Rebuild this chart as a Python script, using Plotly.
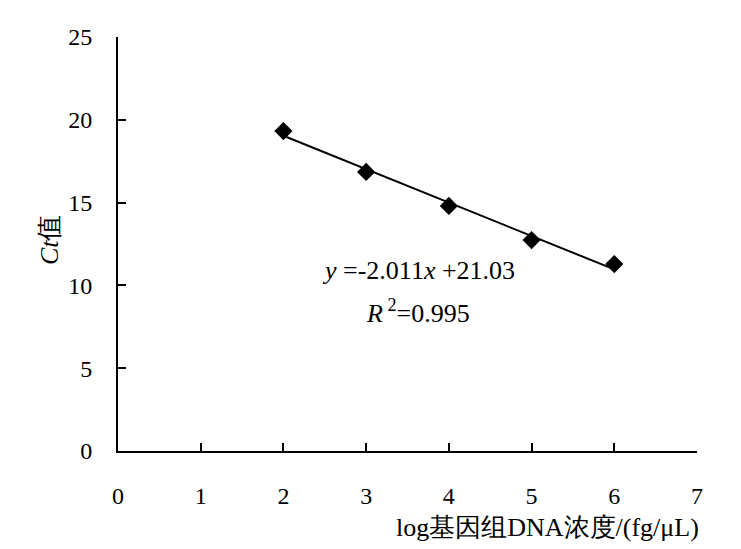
import numpy as np
import plotly.graph_objects as go

log_conc = [2, 3, 4, 5, 6]
ct_values = [19.32, 16.85, 14.80, 12.74, 11.29]
x_ticks = [0, 1, 2, 3, 4, 5, 6, 7]
y_ticks = [0, 5, 10, 15, 20, 25]
equation_text = "<i>y</i> =-2.011<i>x</i> +21.03"
r2_text = "<i>R</i><sup> 2</sup>=0.995"
x_title = "log基因组DNA浓度/(fg/μL)"
y_title = "<i>Ct</i>值"

slope, intercept = np.polyfit(log_conc, ct_values, 1)
fit_x = [min(log_conc), max(log_conc)]
fit_y = [slope * v + intercept for v in fit_x]

FONT = "Times New Roman"
FS = 24
FS_T = 26

fig = go.Figure()
fig.add_trace(go.Scatter(x=fit_x, y=fit_y, mode="lines",
                         line=dict(color="black", width=2), showlegend=False, hoverinfo="skip"))
fig.add_trace(go.Scatter(x=log_conc, y=ct_values, mode="markers",
                         marker=dict(symbol="diamond", size=14, color="black"), showlegend=False))

fig.add_annotation(x=3.63, y=10.87, xref="x", yref="y", xanchor="center", yanchor="middle",
                   text=equation_text, showarrow=False,
                   font=dict(family=FONT, size=FS_T, color="black"))
fig.add_annotation(x=3.63, y=8.45, xref="x", yref="y", xanchor="center", yanchor="middle",
                   text=r2_text, showarrow=False,
                   font=dict(family=FONT, size=FS_T, color="black"))
fig.add_annotation(x=1.007, y=-0.184, xref="paper", yref="paper", xanchor="right", yanchor="middle",
                   text=x_title, showarrow=False, font=dict(family=FONT, size=FS_T, color="black"))
fig.add_annotation(x=-0.117, y=0.51, xref="paper", yref="paper", xanchor="center", yanchor="middle",
                   textangle=-90, text=y_title, showarrow=False,
                   font=dict(family=FONT, size=FS_T, color="black"))

fig.update_layout(
    width=741, height=549,
    margin=dict(l=110, r=52, t=29, b=106),
    plot_bgcolor="white", paper_bgcolor="white",
    font=dict(family=FONT, size=FS, color="black"),
    xaxis=dict(range=[0, 7], tickvals=x_ticks, ticks="inside", ticklen=8, tickwidth=2,
               tickcolor="black", showline=True, linecolor="black", linewidth=2,
               showgrid=False, zeroline=False, ticklabelstandoff=22,
               tickfont=dict(family=FONT, size=FS, color="black")),
    yaxis=dict(range=[0, 25], tickvals=y_ticks, ticks="inside", ticklen=8, tickwidth=2,
               tickcolor="black", showline=True, linecolor="black", linewidth=2,
               showgrid=False, zeroline=False, ticklabelstandoff=19,
               tickfont=dict(family=FONT, size=FS, color="black")),
)

fig.write_html("out.html")
